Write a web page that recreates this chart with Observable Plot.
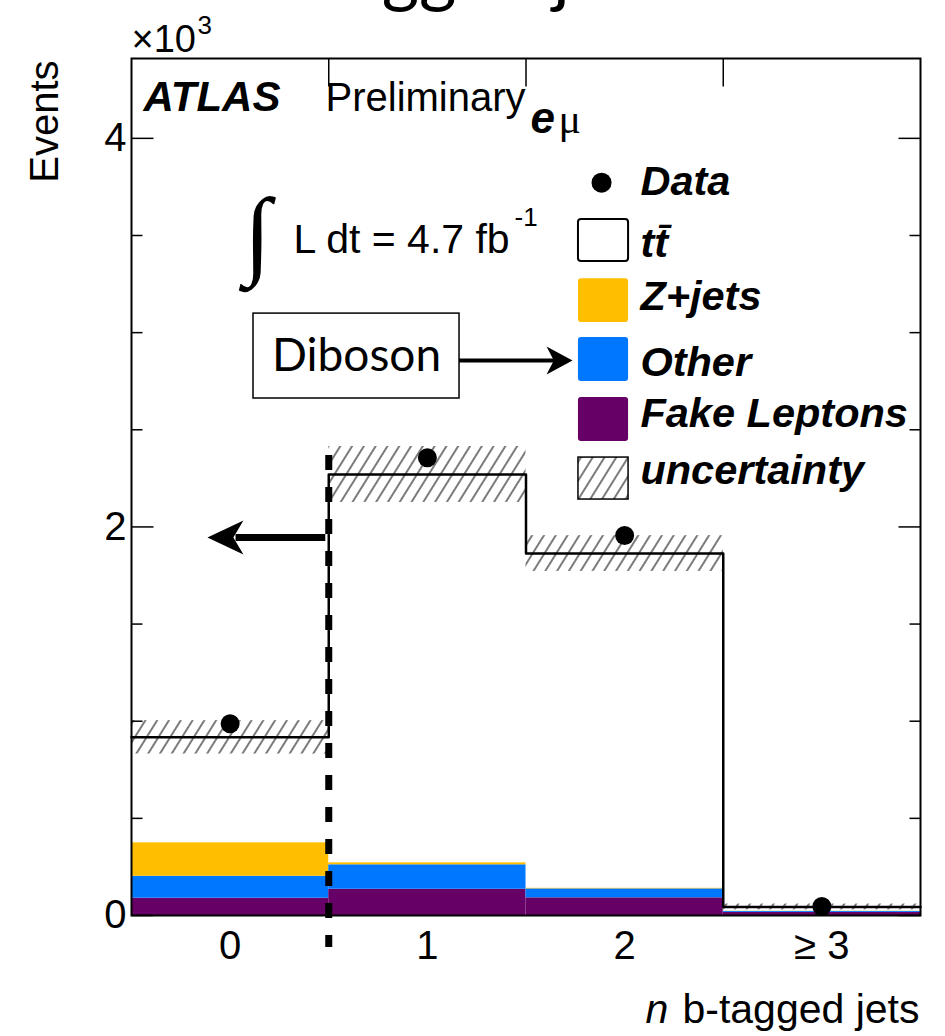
<!DOCTYPE html>
<html>
<head>
<meta charset="utf-8">
<script src="https://cdn.jsdelivr.net/npm/d3@7"></script>
<script src="https://cdn.jsdelivr.net/npm/@observablehq/plot@0.6"></script>
<style>
  html, body { margin: 0; padding: 0; background: #fff; }
  #chart { width: 945px; height: 1036px; overflow: hidden; }
</style>
</head>
<body>
<div id="chart"></div>
<script>
// b-tagged jet multiplicity in the e-mu channel; the last bin collects >= 3
const bins = [0, 1, 2, 3];
const binLabels = ["0", "1", "2", "≥ 3"];
const dataEvents = [987, 2356, 1956, 46];
const ttbar = [543, 1999, 1723, 22];
const zjets = [172, 10, 3, 1];
const other = [113, 126, 46, 5];
const fakes = [89, 135, 91, 16];
const uncertainty = [86, 144, 92, 15];
const yMajorTicks = [0, 2000, 4000];
const yMinorTicks = [500, 1000, 1500, 2500, 3000, 3500];
const binEdges = [0.5, 1.5, 2.5];
// background processes, stacked bottom to top
const processes = ["Fake Leptons", "Other", "Z+jets"];
const processColors = ["#660066", "#0077ff", "#ffbf00"];

const perProcess = {"Fake Leptons": fakes, "Other": other, "Z+jets": zjets};
const stackRows = [];
bins.forEach((b, i) => {
  let base = 0;
  for (const p of processes) {
    const v = perProcess[p][i];
    stackRows.push({bin: b, process: p, y1: base, y2: base + v});
    base += v;
  }
});
const totals = bins.map((b, i) => fakes[i] + other[i] + zjets[i] + ttbar[i]);
const bandRows = bins.map((b, i) => ({bin: b, lo: totals[i] - uncertainty[i], hi: totals[i] + uncertainty[i]}));
const stepPoints = bins.map((b, i) => ({x: b - 0.5, y: totals[i]})).concat([{x: 3.5, y: totals[totals.length - 1]}]);
const points = bins.map((b, i) => ({bin: b, n: dataEvents[i]}));

// small path symbols: tick marks and filled arrow heads
const hTick = len => ({draw(ctx) { ctx.moveTo(0, 0); ctx.lineTo(len, 0); }});
const vTick = len => ({draw(ctx) { ctx.moveTo(0, 0); ctx.lineTo(0, len); }});
const arrowHead = (len, half, dir) => ({draw(ctx) {
  ctx.moveTo(0, 0);
  ctx.lineTo(-dir * len, -half);
  ctx.lineTo(-dir * len * 0.72, 0);
  ctx.lineTo(-dir * len, half);
  ctx.closePath();
}});

const helv = "Liberation Sans, Arial, Helvetica, sans-serif";
const txt = (s, x, y, o = {}) => Plot.text([s], {
  x, y, text: d => d, lineAnchor: "bottom", textAnchor: "start",
  fontFamily: helv, fontSize: 40, fill: "black", ...o
});
const box = (x1, x2, y1, y2, o = {}) => Plot.rect([0], {x1, x2, y1, y2, ...o});
const legendText = (s, y) => txt(s, 2.08, y, {fontWeight: "bold", fontStyle: "italic", fontSize: 41.5});

const plot = Plot.plot({
  width: 945,
  height: 1036,
  marginLeft: 131,
  marginRight: 25,
  marginTop: 58,
  marginBottom: 121,
  style: {background: "#fff", overflow: "hidden"},
  x: {type: "linear", domain: [-0.5, 3.5], axis: null},
  y: {domain: [0, 4411], axis: null},
  color: {domain: processes, range: processColors},
  marks: [
    // stacked backgrounds
    Plot.rect(stackRows, {x1: d => d.bin - 0.5, x2: d => d.bin + 0.5, y1: "y1", y2: "y2", fill: "process"}),
    // total prediction uncertainty
    Plot.rect(bandRows, {x1: d => d.bin - 0.5, x2: d => d.bin + 0.5, y1: "lo", y2: "hi", fill: "url(#hatch)"}),
    // total prediction (ttbar on top of the stack)
    Plot.line(stepPoints, {x: "x", y: "y", curve: "step-after", stroke: "black", strokeWidth: 2.5}),
    // data
    Plot.dot(points, {x: "bin", y: "n", r: 9.5, fill: "black"}),

    // selection cut at one b-tag
    Plot.ruleX([0.5], {x: d => d, y1: 2367, y2: -165, stroke: "black", strokeWidth: 7, strokeDasharray: "15,17"}),
    Plot.ruleY([1945], {y: d => d, x1: 0.485, x2: 0.03, stroke: "black", strokeWidth: 7}),
    Plot.dot([0], {x: -0.115, y: 1945, symbol: arrowHead(36, 17, -1), fill: "black", stroke: "none"}),

    // axis ticks (inside the frame)
    Plot.dot(yMajorTicks, {y: d => d, frameAnchor: "left", symbol: hTick(22), fill: "none", stroke: "black", strokeWidth: 1.5}),
    Plot.dot(yMinorTicks, {y: d => d, frameAnchor: "left", symbol: hTick(11), fill: "none", stroke: "black", strokeWidth: 1.5}),
    Plot.dot(yMajorTicks, {y: d => d, frameAnchor: "right", symbol: hTick(-22), fill: "none", stroke: "black", strokeWidth: 1.5}),
    Plot.dot(yMinorTicks, {y: d => d, frameAnchor: "right", symbol: hTick(-11), fill: "none", stroke: "black", strokeWidth: 1.5}),
    Plot.dot(binEdges, {x: d => d, frameAnchor: "top", symbol: vTick(28), fill: "none", stroke: "black", strokeWidth: 1.5}),
    Plot.frame({stroke: "black", strokeWidth: 2}),

    // tick labels
    Plot.text(yMajorTicks, {y: d => d, frameAnchor: "left", text: d => String(d / 1000), textAnchor: "end", dx: -5, fontFamily: helv, fontSize: 40}),
    Plot.text(bins, {x: d => d, frameAnchor: "bottom", text: (d, i) => binLabels[i], lineAnchor: "top", dy: 15, fontFamily: helv, fontSize: 40}),

    // axis titles
    Plot.text(["Events"], {x: -0.936, y: 4401, text: d => d, rotate: -90, textAnchor: "end", lineAnchor: "middle", fontFamily: helv, fontSize: 40}),
    txt("b-tagged jets", 3.495, -551, {textAnchor: "end", fontSize: 41}),
    txt("n", 2.222, -551, {textAnchor: "end", fontSize: 41, fontStyle: "italic"}),
    txt("×10", -0.5, 4442, {fontSize: 38}),
    txt("3", -0.165, 4539, {fontSize: 26}),
    txt("b-tagged jets", 1.16, 4718, {textAnchor: "middle", fontFamily: "Lato, sans-serif", fontSize: 72}),

    // labels inside the frame
    txt("ATLAS", -0.439, 4143, {fontWeight: "bold", fontStyle: "italic", fontSize: 42}),
    txt("Preliminary", 0.4835, 4143),
    txt("e", 1.523, 4025, {fontWeight: "bold", fontStyle: "italic", fontSize: 44}),
    txt("μ", 1.665, 4025, {fontFamily: "Liberation Serif, serif", fontSize: 42}),
    txt("∫", 0.07, 3345, {fontFamily: "Liberation Serif, serif", fontSize: 98}),
    txt("L dt = 4.7 fb", 0.3213, 3412, {fontSize: 41}),
    txt("-1", 1.4417, 3551, {fontSize: 26}),

    // Diboson call-out
    box(0.1185, 1.163, 2661, 3098, {fill: "white", stroke: "black", strokeWidth: 1.5}),
    txt("Diboson", 0.6407, 2880, {textAnchor: "middle", lineAnchor: "middle", fontFamily: "Lato, sans-serif", fontSize: 46}),
    Plot.ruleY([2856], {y: d => d, x1: 1.163, x2: 1.67, stroke: "black", strokeWidth: 4}),
    Plot.dot([0], {x: 1.736, y: 2856, symbol: arrowHead(26, 14, 1), fill: "black", stroke: "none"}),

    // legend
    Plot.dot([0], {x: 1.883, y: 3772, r: 10, fill: "black"}),
    box(1.766, 2.020, 3366, 3582, {fill: "white", stroke: "black", strokeWidth: 2, rx: 3}),
    box(1.766, 2.020, 3052, 3278, {fill: processColors[2], rx: 3}),
    box(1.766, 2.020, 2748, 2975, {fill: processColors[1], rx: 3}),
    box(1.766, 2.020, 2440, 2666, {fill: processColors[0], rx: 3}),
    box(1.766, 2.020, 2141, 2357, {fill: "url(#hatch)", stroke: "black", strokeWidth: 1.5}),
    legendText("Data", 3706),
    legendText("tt\u0304", 3387),
    legendText("Z+jets", 3114),
    legendText("Other", 2779),
    legendText("Fake Leptons", 2512),
    legendText("uncertainty", 2223)
  ]
});

// hatch pattern used by the uncertainty band
d3.select(plot).insert("defs", ":first-child").html(
  '<pattern id="hatch" patternUnits="userSpaceOnUse" width="10" height="10" patternTransform="rotate(32)">' +
  '<line x1="5" y1="-1" x2="5" y2="11" stroke="#222" stroke-width="1.2"/></pattern>'
);

document.getElementById("chart").appendChild(plot);
</script>
</body>
</html>
